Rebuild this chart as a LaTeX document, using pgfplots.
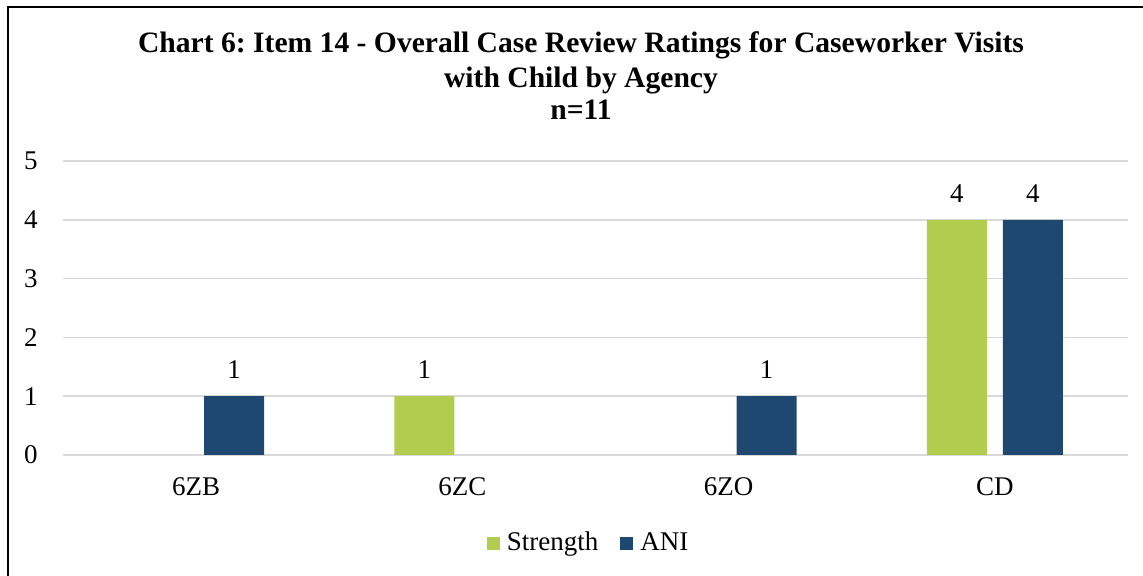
\documentclass[border=0pt]{standalone}
\usepackage{fontspec}
\setmainfont{Liberation Serif}
\usepackage{pgfplots}
\pgfplotsset{compat=1.18}
\definecolor{strengthgreen}{HTML}{B1CC4F}
\definecolor{aninavy}{HTML}{1F4870}
\definecolor{gridgray}{HTML}{D9D9D9}

\begin{document}
\frenchspacing
\begin{tikzpicture}
\useasboundingbox (0pt,0pt) rectangle (571.5pt,288pt);
\begin{scope}
  \clip (0pt,0pt) rectangle (571.5pt,288pt);
  \draw[line width=1pt, black] (4pt,284.5pt) rectangle (590pt,-20pt);
\end{scope}

% title
\node[anchor=base, font=\fontsize{14.8}{17}\selectfont\bfseries] at (290.5pt,261.5pt)
  {Chart 6: Item 14 - Overall Case Review Ratings for Caseworker Visits};
\node[anchor=base, font=\fontsize{14.8}{17}\selectfont\bfseries] at (290.5pt,244pt)
  {with Child by Agency};
\node[anchor=base, font=\fontsize{14.8}{17}\selectfont\bfseries] at (290.5pt,228pt)
  {n=11};

\begin{axis}[
  at={(31.5pt,60.5pt)}, anchor=south west,
  scale only axis,
  width=532.5pt, height=147pt,
  xmin=-0.5, xmax=3.5,
  ymin=0, ymax=5,
  enlargelimits=false,
  clip=false,
  axis line style={draw=none},
  major tick length=0pt,
  xtick={0,1,2,3},
  xticklabels={6ZB,6ZC,6ZO,CD},
  ytick={0,1,2,3,4,5},
  ymajorgrids,
  grid style={gridgray, line width=0.75pt},
  /pgf/number format/assume math mode=true,
  tick label style={font=\fontsize{13.5}{16}\selectfont},
  xticklabel style={anchor=base, inner sep=0pt, yshift=-20.5pt},
  yticklabel style={anchor=east, inner sep=0pt, xshift=-12.5pt},
  ybar,
  bar width=30pt,
  nodes near coords,
  every node near coord/.append style={anchor=base, yshift=8.75pt,
    font=\fontsize{13.5}{16}\selectfont},
  legend columns=-1,
  legend style={draw=none, fill=none, inner sep=0pt, outer sep=0pt,
    at={(axis description cs:0.398,-0.262)}, anchor=north west,
    font=\fontsize{13.5}{16}\selectfont,
    nodes={inner sep=0pt, text height=9pt, text depth=3pt},
    /tikz/every odd column/.append style={column sep=3.5pt},
    /tikz/every even column/.append style={column sep=11pt}},
  legend image code/.code={\fill[#1] (0pt,-3pt) rectangle (6.5pt,3.5pt);},
]
\addplot[fill=strengthgreen, draw=none, bar shift=-19pt] coordinates {
  (1,1) (3,4)
};
\addlegendentry{Strength}
\addplot[fill=aninavy, draw=none, bar shift=19pt] coordinates {
  (0,1) (2,1) (3,4)
};
\addlegendentry{ANI}
\end{axis}
\end{tikzpicture}
\end{document}
